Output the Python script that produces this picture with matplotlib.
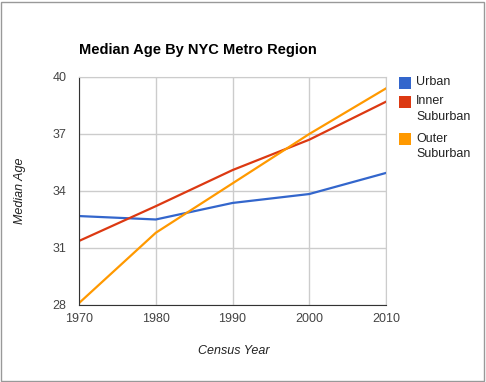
import matplotlib.pyplot as plt
from matplotlib.patches import Rectangle

years = [1970, 1980, 1990, 2000, 2010]
urban = [32.68, 32.5, 33.37, 33.84, 34.95]
inner_suburban = [31.37, 33.2, 35.1, 36.7, 38.7]
outer_suburban = [28.1, 31.8, 34.4, 37.0, 39.4]
y_ticks = [28, 31, 34, 37, 40]

series = [("Urban", urban, "#3366cc"),
          ("Inner\nSuburban", inner_suburban, "#dc3912"),
          ("Outer\nSuburban", outer_suburban, "#ff9900")]

plt.rcParams['font.family'] = ['Liberation Sans', 'DejaVu Sans']

fig = plt.figure(figsize=(4.86, 3.82), dpi=100)
fig.patches.append(Rectangle((0.002, 0.003), 0.994, 0.992, transform=fig.transFigure,
                             fill=False, edgecolor="#999999", linewidth=1))
ax = fig.add_axes([0.1626, 0.2016, 0.6317, 0.5969])

for name, vals, col in series:
    ax.plot(years, vals, color=col, linewidth=1.6)

ax.set_xlim(1970, 2010)
ax.set_ylim(28, 40)
ax.set_xticks(years)
ax.set_yticks(y_ticks)
ax.grid(True, color="#cccccc", linewidth=1)
ax.set_axisbelow(True)
ax.tick_params(length=0, labelsize=9, colors="#444444")
ax.tick_params(axis="y", pad=9)
ax.tick_params(axis="x", pad=6)
for s in ["top", "right"]:
    ax.spines[s].set_color("#cccccc")
for s in ["left", "bottom"]:
    ax.spines[s].set_color("#333333")

fig.text(0.1626, 0.868, "Median Age By NYC Metro Region", fontsize=10.5, fontweight="bold",
         color="black", ha="left", va="center")
fig.text(0.48, 0.081, "Census Year", fontsize=9, style="italic", color="#222222",
         ha="center", va="center")
fig.text(0.041, 0.5, "Median Age", fontsize=9, style="italic", color="#222222",
         rotation=90, ha="center", va="center")

# legend: colour squares with wrapped labels
for (name, _, col), y in zip(series, [0.783, 0.733, 0.636]):
    fig.patches.append(Rectangle((0.821, y - 0.016), 0.025, 0.032, transform=fig.transFigure,
                                 facecolor=col, edgecolor="none"))
    fig.text(0.856, y + 0.017, name, fontsize=9, color="#222222", ha="left", va="top",
             linespacing=1.4)

fig.savefig("out.png", dpi=100)
